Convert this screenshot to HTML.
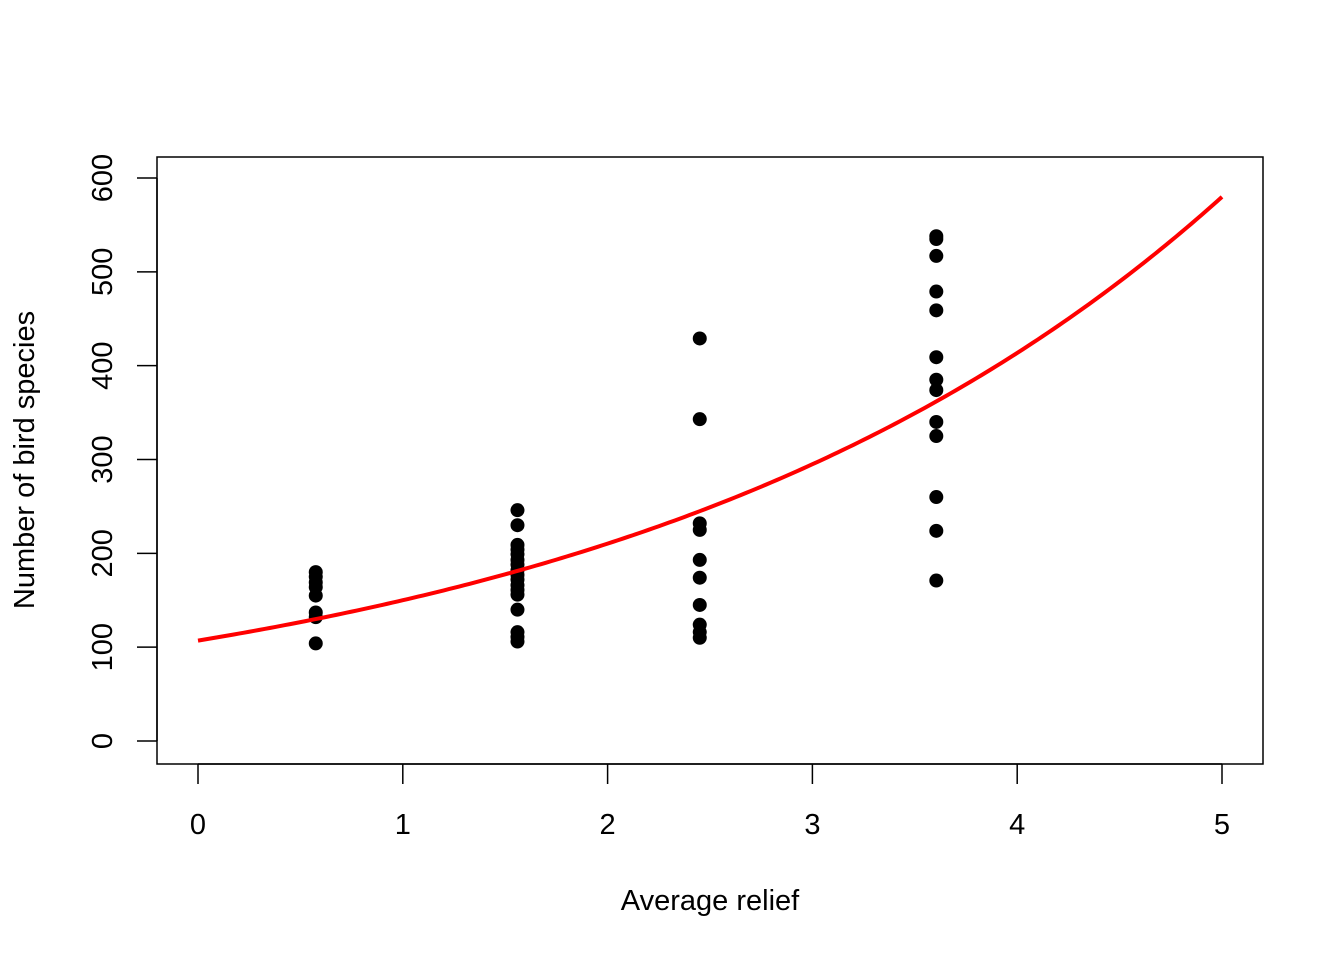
<!DOCTYPE html>
<html><head><meta charset="utf-8"><style>
html,body{margin:0;padding:0;background:#fff;}
svg text{font-family:"Liberation Sans",Arial,sans-serif;fill:#000;}
</style></head><body>
<svg id="chart" width="1344" height="960" xmlns="http://www.w3.org/2000/svg">
<rect x="0" y="0" width="1344" height="960" fill="#fff"/>
<rect x="157" y="157" width="1106" height="607" fill="none" stroke="#000" stroke-width="1.5"/>
<g id="xaxis"></g>
<g id="yaxis"></g>
<g id="points"></g>
<g id="curve"></g>
<text x="710" y="910" font-size="29" text-anchor="middle">Average relief</text>
<text transform="translate(34,460) rotate(-90)" font-size="29" text-anchor="middle">Number of bird species</text>
</svg>
<script>
const xTicks = [0,1,2,3,4,5];
const yTicks = [0,100,200,300,400,500,600];
const reliefGroups = [0.575, 1.56, 2.45, 3.605];
const speciesG1 = [180,175,169,164,155,137,132,104];
const speciesG2 = [246,230,209,204,199,193,188,182,177,172,166,161,156,140,116,111,106];
const speciesG3 = [429,343,232,225,193,174,145,124,116,110];
const speciesG4 = [538,535,517,479,459,409,385,374,340,325,260,224,171];
const curveParams = [107, 0.338]; // a*exp(b*x)
const curveRange = [0, 5];

const NS = "http://www.w3.org/2000/svg";
const X = v => 198 + v * 204.8;
const Y = v => 741 - v * 0.9383;
function mk(tag, attrs, parent){const e=document.createElementNS(NS,tag);for(const k in attrs)e.setAttribute(k,attrs[k]);parent.appendChild(e);return e;}

const xa=document.getElementById('xaxis');
mk('line',{x1:X(xTicks[0]),x2:X(xTicks[xTicks.length-1]),y1:764,y2:764,stroke:'#000','stroke-width':1.5},xa);
xTicks.forEach(t=>{
  const l=mk('line',{x1:X(t),x2:X(t),y1:764,y2:784,stroke:'#000','stroke-width':1.5},xa);
  
  
  const tx=mk('text',{x:X(t),y:834,'font-size':29,'text-anchor':'middle'},xa);
  tx.textContent=t;
  
  
});
const ya=document.getElementById('yaxis');
mk('line',{x1:157,x2:157,y1:Y(yTicks[0]),y2:Y(yTicks[yTicks.length-1]),stroke:'#000','stroke-width':1.5},ya);
yTicks.forEach(t=>{
  const l=mk('line',{x1:137,x2:157,y1:Y(t),y2:Y(t),stroke:'#000','stroke-width':1.5},ya);
  
  
  const tx=mk('text',{transform:`translate(112,${Y(t)}) rotate(-90)`,'font-size':29,'text-anchor':'middle'},ya);
  tx.textContent=t;
  
  
});
const pg=document.getElementById('points');
[speciesG1,speciesG2,speciesG3,speciesG4].forEach((arr,i)=>{
  arr.forEach(v=>{
    const c=mk('circle',{cx:X(reliefGroups[i]),cy:Y(v),r:7,fill:'#000'},pg);
    
    
  });
});
const cg=document.getElementById('curve');
let d='';
for(let i=0;i<=200;i++){
  const x=curveRange[0]+(curveRange[1]-curveRange[0])*i/200;
  const y=curveParams[0]*Math.exp(curveParams[1]*x);
  d+=(i?'L':'M')+X(x).toFixed(2)+','+Y(y).toFixed(2);
}
const p=mk('path',{d:d,fill:'none',stroke:'#ff0000','stroke-width':4},cg);


</script>
</body></html>
